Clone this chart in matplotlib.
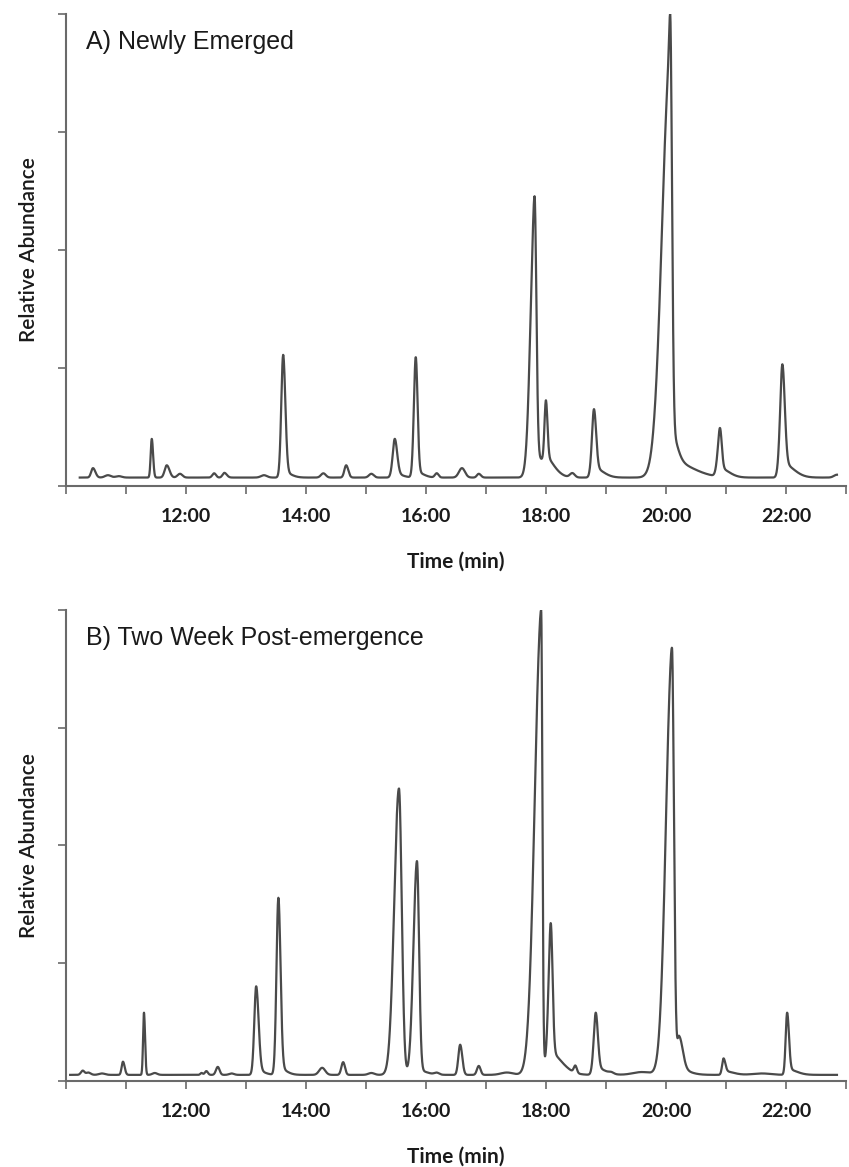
import numpy as np
import matplotlib.pyplot as plt

#----------------------------------------------------------#
# Chromatogram data: peaks          #
# (retention time in min, height in % of panel maximum,     #
#  left / right peak width in min)                          #
#----------------------------------------------------------#

# A) Newly emerged
a_start, a_end, a_base = 10.23, 22.85, 1.8
a_centre = [10.45, 10.70, 10.88, 11.43, 11.68, 11.90, 12.47, 12.64, 13.30,
            13.62, 13.62, 14.29, 14.67, 15.09, 15.48, 15.48, 15.83, 15.83,
            16.18, 16.60, 16.88, 17.81, 17.81, 18.00, 18.00, 18.44, 18.80,
            18.80, 20.07, 20.07, 20.07, 20.90, 20.90, 21.94, 21.94, 22.85]
a_height = [2.0, 0.5, 0.3, 8.2, 2.6, 0.8, 0.9, 1.0, 0.5,
            24.8, 1.2, 0.9, 2.6, 0.8, 7.4, 0.8, 24.3, 1.2,
            0.9, 2.0, 0.8, 55.1, 4.5, 11.5, 2.0, 0.9, 12.5,
            2.0, 87.7, 7.0, 3.5, 8.5, 1.8, 21.0, 3.0, 0.6]
a_left = [0.03, 0.05, 0.05, 0.018, 0.035, 0.04, 0.03, 0.03, 0.05,
          0.032, 0.02, 0.04, 0.03, 0.04, 0.036, 0.02, 0.032, 0.02,
          0.03, 0.05, 0.03, 0.068, 0.02, 0.025, 0.02, 0.04, 0.036,
          0.02, 0.135, 0.02, 0.02, 0.04, 0.02, 0.04, 0.02, 0.05]
a_right = [0.04, 0.05, 0.05, 0.022, 0.045, 0.04, 0.03, 0.04, 0.05,
           0.036, 0.12, 0.04, 0.035, 0.04, 0.04, 0.12, 0.03, 0.12,
           0.03, 0.05, 0.035, 0.03, 0.2, 0.025, 0.15, 0.04, 0.036,
           0.15, 0.03, 0.1, 0.35, 0.03, 0.15, 0.04, 0.18, 0.05]

# B) Two week post-emergence
b_start, b_end, b_base = 10.07, 22.85, 1.3
b_centre = [10.28, 10.37, 10.60, 10.95, 11.30, 11.48, 12.26, 12.34, 12.53,
            12.76, 13.17, 13.17, 13.54, 13.54, 14.27, 14.62, 15.09, 15.55,
            15.85, 15.85, 16.18, 16.57, 16.88, 17.35, 17.92, 17.92, 18.08,
            18.08, 18.49, 18.83, 18.83, 19.09, 19.60, 20.10, 20.10, 20.22,
            20.96, 20.96, 21.60, 22.02, 22.02]
b_height = [0.9, 0.5, 0.3, 2.8, 13.2, 0.4, 0.4, 0.8, 1.7,
            0.3, 17.8, 1.0, 36.1, 1.5, 1.5, 2.7, 0.4, 60.8,
            44.4, 1.0, 0.4, 6.4, 1.9, 0.5, 96.7, 2.0, 27.1,
            4.0, 1.5, 11.7, 1.5, 0.3, 0.6, 88.7, 2.0, 6.5,
            2.7, 0.8, 0.3, 12.0, 1.2]
b_left = [0.03, 0.03, 0.05, 0.022, 0.015, 0.04, 0.02, 0.025, 0.03,
          0.04, 0.032, 0.02, 0.032, 0.02, 0.05, 0.03, 0.05, 0.079,
          0.06, 0.02, 0.04, 0.03, 0.03, 0.1, 0.107, 0.02, 0.04,
          0.02, 0.025, 0.036, 0.02, 0.04, 0.15, 0.1, 0.02, 0.03,
          0.025, 0.02, 0.15, 0.025, 0.02]
b_right = [0.03, 0.04, 0.05, 0.028, 0.018, 0.04, 0.02, 0.025, 0.03,
           0.04, 0.04, 0.12, 0.036, 0.12, 0.05, 0.03, 0.05, 0.046,
           0.035, 0.15, 0.04, 0.035, 0.03, 0.1, 0.02, 0.15, 0.03,
           0.2, 0.025, 0.035, 0.15, 0.04, 0.15, 0.033, 0.2, 0.06,
           0.03, 0.15, 0.15, 0.03, 0.15]

panel_titles = ["A) Newly Emerged", "B) Two Week Post-emergence"]
tick_minutes = list(range(10, 24))
tick_labels = [f"{m}:00" if m % 2 == 0 and m > 10 else "" for m in tick_minutes]

#---------------------------#
# FUNCTION: trace           #
#---------------------------#

def trace(start, end, base, centre, height, left, right):
    # sum of asymmetric gaussian peaks on a flat baseline
    t = np.linspace(start, end, 4000)
    y = np.full_like(t, base)
    for c, h, wl, wr in zip(centre, height, left, right):
        w = np.where(t < c, wl, wr)
        y += h * np.exp(-0.5 * ((t - c) / w) ** 2)
    return t, y

#---------------------------#
# FUNCTION: draw_panel      #
#---------------------------#

def draw_panel(ax, t, y, title):
    ax.plot(t, y, color="#4a4a4a", lw=1.6)
    ax.set_xlim(10, 23)
    ax.set_ylim(0, 100)
    ax.set_xticks(tick_minutes)
    ax.set_xticklabels(tick_labels, fontfamily="Lato", fontweight="bold",
                       fontsize=14, color="#1a1a1a")
    ax.set_yticks([0, 25, 50, 75, 100])
    ax.set_yticklabels([])
    ax.tick_params(axis="both", length=6, width=1.2, color="#6a6a6a")
    ax.tick_params(axis="x", pad=10)
    for side in ["top", "right"]:
        ax.spines[side].set_visible(False)
    for side in ["left", "bottom"]:
        ax.spines[side].set_color("#6a6a6a")
        ax.spines[side].set_linewidth(1.5)
    ax.set_xlabel("Time (min)", fontfamily="Lato", fontweight="bold",
                  fontsize=15, color="#1a1a1a", labelpad=19)
    ax.set_ylabel("Relative Abundance", fontfamily="Lato", fontweight="semibold",
                  fontsize=15, color="#1a1a1a", labelpad=10)
    ax.text(0.026, 0.94, title, transform=ax.transAxes, fontfamily="Liberation Sans",
            fontsize=18, color="#1a1a1a", va="center", ha="left")

#-----------------------------------------#
# Build figure                            #
#-----------------------------------------#

fig = plt.figure(figsize=(8.49, 11.67), dpi=100)
ax_a = fig.add_axes([0.0777, 0.5835, 0.9187, 0.4045])
ax_b = fig.add_axes([0.0777, 0.0737, 0.9187, 0.4036])

t_a, y_a = trace(a_start, a_end, a_base, a_centre, a_height, a_left, a_right)
t_b, y_b = trace(b_start, b_end, b_base, b_centre, b_height, b_left, b_right)

draw_panel(ax_a, t_a, y_a, panel_titles[0])
draw_panel(ax_b, t_b, y_b, panel_titles[1])

fig.savefig("out.png", dpi=100)
